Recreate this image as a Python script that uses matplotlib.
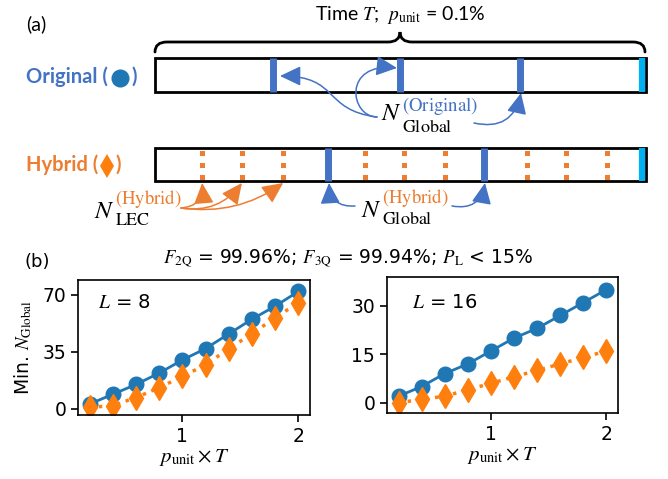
import numpy as np
import matplotlib.pyplot as plt
from matplotlib.patches import FancyArrowPatch, Rectangle, PathPatch
from matplotlib.path import Path

plt.rcParams['mathtext.fontset'] = 'stix'

# данные для графиков (b)
p_unit_T = [0.2, 0.4, 0.6, 0.8, 1.0, 1.2, 1.4, 1.6, 1.8, 2.0]
orig_L8 = [3, 9, 15, 22, 30, 37, 46, 55, 63, 72]
hyb_L8 = [1, 2, 7, 13, 20, 27, 37, 46, 56, 65]
orig_L16 = [2, 5, 9, 12, 16, 20, 23, 27, 31, 35]
hyb_L16 = [0, 1, 2, 4, 6, 8, 10, 12, 14, 16]

# схема (a): моменты коррекций в долях времени T
orig_global = [0.241, 0.499, 0.744]
hyb_global = [0.352, 0.670]
hyb_lec = [0.096, 0.177, 0.261, 0.428, 0.507, 0.591, 0.758, 0.837, 0.921]
t_end = [0.992]

BLUE = '#4472C4'
ORANGE = '#ED7D31'
CYAN = '#00B0F0'

fig = plt.figure(figsize=(6.68, 4.79), dpi=100)

# схема рисуется в пиксельных координатах
ax0 = fig.add_axes([0, 0, 1, 1])
ax0.set_xlim(0, 668)
ax0.set_ylim(479, 0)
ax0.axis('off')

X0, W = 155, 491


def tx(f):
    return X0 + W * np.asarray(f)


def right_edge(t):
    # правый край текста в координатах ax0
    fig.canvas.draw()
    bb = t.get_window_extent()
    return ax0.transData.inverted().transform((bb.x1, bb.y0))[0]


# полоски времени
rows = {'orig': (58, 92), 'hyb': (148, 181)}
for top, bot in rows.values():
    ax0.add_patch(Rectangle((X0, top), W, bot - top, fill=False, ec='black', lw=2, zorder=2))

top, bot = rows['orig']
ax0.vlines(tx(orig_global), top, bot, color=BLUE, lw=5, zorder=3)
ax0.vlines(tx(t_end), top, bot, color=CYAN, lw=4.5, zorder=3)

top, bot = rows['hyb']
ax0.vlines(tx(hyb_global), top, bot, color=BLUE, lw=5, zorder=3)
ax0.vlines(tx(t_end), top, bot, color=CYAN, lw=4.5, zorder=3)
for y in (152.5, 164.5, 177):
    ax0.plot(tx(hyb_lec), [y] * len(hyb_lec), 's', color=ORANGE, ms=3.6, mew=0, zorder=3)

# фигурная скобка
verts = [(155, 52), (155, 42), (167, 42), (388, 42), (400, 42), (400, 32),
         (400, 42), (412, 42), (633, 42), (645, 42), (645, 52)]
codes = [Path.MOVETO, Path.CURVE3, Path.CURVE3, Path.LINETO, Path.CURVE3, Path.CURVE3,
         Path.CURVE3, Path.CURVE3, Path.LINETO, Path.CURVE3, Path.CURVE3]
ax0.add_patch(PathPatch(Path(verts, codes), fill=False, lw=2, ec='black', capstyle='round'))

ax0.text(400, 20, r'Time $T$;  $p_{\mathrm{unit}}$ = 0.1%', fontsize=14, family='Lato',
         ha='center', va='baseline')
ax0.text(26, 24, '(a)', fontsize=14, family='Lato', va='center')


def row_label(y, word, color, marker, mcolor, ms, msize_px):
    t = ax0.text(26, y, word + ' (', color=color, fontsize=14.5, fontweight='bold',
                 family='Lato', va='center')
    x1 = right_edge(t)
    xm = x1 + 3 + msize_px / 2
    ax0.plot([xm], [y + 1], marker, color=mcolor, ms=ms, mew=0)
    ax0.text(xm + msize_px / 2 + 3, y, ')', color=color, fontsize=14.5, fontweight='bold',
             family='Lato', va='center')


row_label(77, 'Original', BLUE, 'o', '#1f77b4', 13, 18)
row_label(165, 'Hybrid', ORANGE, 'd', '#ff7f0e', 12.5, 11)


def nlabel(x, yn, ysup, ysub, sup, sub, sup_color):
    t = ax0.text(x, yn, r'$N$', fontsize=18, va='baseline', ha='left')
    xs = right_edge(t) + 0.5
    ax0.text(xs, ysup, r'$(\mathrm{%s})$' % sup, fontsize=13.5, color=sup_color,
             va='baseline', ha='left')
    ax0.text(xs, ysub, r'$\mathrm{%s}$' % sub, fontsize=13, va='baseline', ha='left')


nlabel(381, 120, 111, 132, 'Original', 'Global', BLUE)
nlabel(94, 218, 204, 225, 'Hybrid', 'LEC', ORANGE)
nlabel(361, 217, 203, 224, 'Hybrid', 'Global', ORANGE)

ASTYLE = '-|>,head_length=0.8,head_width=0.38'


def arrow(p0, p1, rad, color):
    ax0.add_patch(FancyArrowPatch(p0, p1, connectionstyle='arc3,rad=%s' % rad,
                                  arrowstyle=ASTYLE, mutation_scale=16, color=color,
                                  lw=1.1, shrinkA=0, shrinkB=0, zorder=4))


def curve_arrow(pts, color):
    path = Path(pts, [Path.MOVETO, Path.CURVE4, Path.CURVE4, Path.CURVE4])
    ax0.add_patch(FancyArrowPatch(path=path, arrowstyle=ASTYLE, mutation_scale=16,
                                  color=color, lw=1.1, zorder=4))


curve_arrow([(377, 117), (322, 110), (340, 76), (280, 76)], BLUE)
curve_arrow([(377, 117), (350, 117), (342, 62), (397, 68)], BLUE)
arrow((474, 123), (521, 93), 0.5, BLUE)
arrow((355, 206), (329, 183), -0.5, BLUE)
arrow((452, 206), (485, 183), 0.5, BLUE)
for xl in tx(hyb_lec[:3]):
    arrow((181, 208), (xl, 183), 0.5 if xl < 210 else (0.3 if xl < 250 else 0.2), ORANGE)

# графики (b)
fig.text(25 / 668, 1 - 262 / 479, '(b)', fontsize=13, va='center')
fig.text(348 / 668, 1 - 258 / 479,
         r'$F_{\mathrm{2Q}}$ = 99.96%; $F_{\mathrm{3Q}}$ = 99.94%; $P_{\mathrm{L}}$ < 15%',
         fontsize=13.5, ha='center', va='center')

ax1 = fig.add_axes([78 / 668, 1 - 415 / 479, 232 / 668, 135 / 479])
ax2 = fig.add_axes([387 / 668, 1 - 413 / 479, 231 / 668, 136 / 479])

panels = [(ax1, orig_L8, hyb_L8, (-3.7, 79), [0, 35, 70], '$L$ = 8', 0.086, 0.83),
          (ax2, orig_L16, hyb_L16, (-3.2, 38.9), [0, 15, 30], '$L$ = 16', 0.108, 0.816)]
for ax, orig, hyb, ylim, yt, lab, lx, ly in panels:
    ax.plot(p_unit_T, orig, '-o', color='#1f77b4', lw=2, ms=10.5)
    ax.plot(p_unit_T, hyb, ':d', color='#ff7f0e', lw=2.5, ms=12)
    ax.set_xlim(0.1, 2.1)
    ax.set_ylim(*ylim)
    ax.set_xticks([1, 2])
    ax.set_yticks(yt)
    ax.tick_params(labelsize=13.5, width=1.2, length=5)
    ax.set_xlabel(r'$p_{\mathrm{unit}}\times T$', fontsize=15, labelpad=1)
    ax.text(lx, ly, lab, transform=ax.transAxes, fontsize=14, va='center', ha='left')
    for s in ax.spines.values():
        s.set_linewidth(1.2)

ax1.set_ylabel(r'Min. $N_{\mathrm{Global}}$', fontsize=13.5, labelpad=6)

plt.savefig('out.png', dpi=100)
